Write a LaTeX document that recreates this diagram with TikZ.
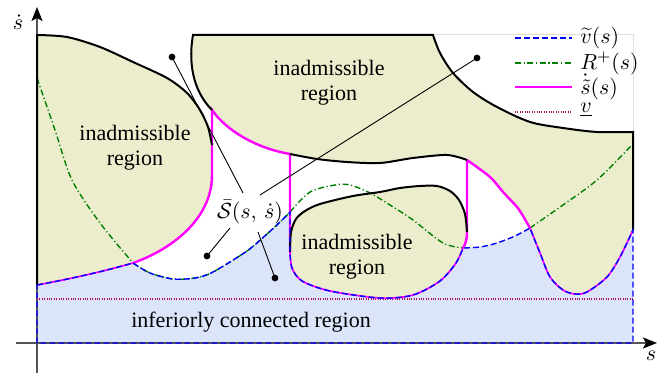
\documentclass[tikz,border=0pt]{standalone}
\usepackage{fontspec}
\setmainfont{Liberation Serif}
\usetikzlibrary{arrows.meta}
\definecolor{khaki}{RGB}{236,237,204}
\definecolor{lblue}{RGB}{220,228,250}
\definecolor{maroonv}{RGB}{170,20,80}
\definecolor{rgreen}{RGB}{0,128,0}
\definecolor{pmag}{RGB}{255,0,255}
\definecolor{axgray}{RGB}{85,85,85}
\definecolor{framegray}{RGB}{225,225,225}
\begin{document}
\begin{tikzpicture}[x=0.5pt,y=-0.5pt,
  bnd/.style={line width=1pt, black},
  mag/.style={line width=1.2pt, pmag},
  magthin/.style={line width=0.85pt, pmag},
  vtl/.style={line width=0.7pt, blue, dash pattern=on 3pt off 1.5pt},
  rpl/.style={line width=0.7pt, rgreen, dash pattern=on 3pt off 1.3pt on 0.6pt off 1.3pt},
  vll/.style={line width=0.6pt, maroonv, dash pattern=on 0.5pt off 0.7pt},
  ptr/.style={line width=0.45pt, black},
  dotn/.style={circle, fill=black, inner sep=0pt, minimum size=3.4pt},
  lab/.style={font=\fontsize{11}{12.5}\selectfont, align=center, inner sep=0pt},
  ax/.style={line width=0.9pt, axgray},
  tip/.style={-{Stealth[length=7pt,width=5.5pt,inset=1.5pt,color=black]}},
]
\useasboundingbox (0,0) rectangle (659,373);

% fills
\fill[khaki] (37,35) rectangle (633,343);
\fill[white] (37,35)
  -- plot[smooth] coordinates {(37,35) (67,37) (100,47) (133,62) (167,78) (187,93) (200,110) (208,127) (212,145)}
  -- (212,175) .. controls (212,220) and (170,250) .. (133,263)
  -- plot[smooth] coordinates {(133,263) (150,273) (173,279) (195,278) (213,272) (247,251) (267,234) (280,222) (290,212)}
  -- (290,252)
  -- plot[smooth] coordinates {(290,252) (291,232) (296,219) (305,211) (320,204) (353,196) (380,192) (400,188) (420,186) (437,186) (450,191) (459,200) (465,214) (467,232)}
  -- (467,233) .. controls (467,240) and (465,245) .. (463,248)
  -- plot[smooth] coordinates {(463,248) (480,247) (497,243) (515,236) (530,228)}
  -- plot[smooth] coordinates {(530,228) (523,216) (517,207) (503,192) (490,177) (467,160)}
  -- plot[smooth] coordinates {(467,160) (447,155) (413,158) (380,163) (347,162) (317,159) (290,154)}
  .. controls (255,148) and (226,130) .. (212,110)
  .. controls (197,95) and (187,70) .. (193,35) -- cycle;
\fill[white] (433,35)
  -- plot[smooth] coordinates {(433,35) (440,53) (453,73) (473,92) (497,107) (530,122) (563,128) (597,132) (633,132)}
  -- (633,35) -- cycle;
\fill[lblue] (37,343) -- (37,285) .. controls (70,279) and (105,271) .. (133,263)
  -- plot[smooth] coordinates {(133,263) (150,273) (173,279) (195,278) (213,272) (247,251) (267,234) (280,222) (290,212)}
  -- (290,252)
  -- plot[smooth] coordinates {(290,252) (292,268) (302,281) (330,291) (380,298) (413,295) (440,281) (456,263) (463,248)}
  -- plot[smooth] coordinates {(463,248) (480,247) (497,243) (515,236) (530,228)}
  -- plot[smooth] coordinates {(530,228) (540,253) (550,277) (563,290) (575,294) (587,292) (607,277) (620,257) (633,230)}
  -- (633,343) -- cycle;
\draw[framegray, line width=0.5pt] (433,35) -- (633,35) -- (633,132);

% axes
\coordinate (xs) at (16,343); \coordinate (xe) at (657,343);
\coordinate (ys) at (37,373); \coordinate (ye) at (37,7);
\draw[ax,tip] (xs) -- (xe);
\draw[ax,tip] (ys) -- (ye);
\node[lab] (ylab) at (18,22) {$\dot{s}$};
\node[lab] (xlab) at (651,356) {$s$};

% lower bound
\draw[vll] (37,299) -- (633,299);

% R+ curve
\draw[rpl] plot[smooth] coordinates {(37,78) (55,130) (72,180) (100,223) (133,263)};
\draw[rpl] plot[smooth] coordinates {(133,263) (150,273) (173,279) (195,278) (213,272) (247,251) (267,234) (280,222) (290,212)};
\draw[rpl] plot[smooth] coordinates {(290,212) (310,192) (335,185) (350,185) (370,193) (390,205) (413,220) (443,243) (463,248)};
\draw[rpl] plot[smooth] coordinates {(530,228) (563,205) (597,180) (632,145)};

% magenta s-dot curve
\draw[magthin] (37,285) .. controls (70,279) and (105,271) .. (133,263);
\draw[mag] (133,263) .. controls (170,250) and (212,220) .. (212,175) -- (212,110)
  .. controls (226,130) and (255,148) .. (290,154) -- (290,252);
\draw[magthin] plot[smooth] coordinates {(290,252) (292,268) (302,281) (330,291) (380,298) (413,295) (440,281) (456,263) (463,248)};
\draw[mag] (463,248) .. controls (465,245) and (467,240) .. (467,233) -- (467,160);
\draw[mag] plot[smooth] coordinates {(467,160) (490,177) (503,192) (517,207) (523,216) (530,228)};
\draw[magthin] plot[smooth] coordinates {(530,228) (540,253) (550,277) (563,290) (575,294) (587,292) (607,277) (620,257) (633,230)};

% black boundaries
\draw[bnd] (37,285) -- plot[smooth] coordinates {(37,35) (67,37) (100,47) (133,62) (167,78) (187,93) (200,110) (208,127) (212,145)};
\draw[bnd] (212,110) .. controls (197,95) and (187,70) .. (193,35) -- (433,35)
  -- plot[smooth] coordinates {(433,35) (440,53) (453,73) (473,92) (497,107) (530,122) (563,128) (597,132) (633,132)}
  -- (633,230);
\draw[bnd] plot[smooth] coordinates {(290,154) (317,159) (347,162) (380,163) (413,158) (447,155) (467,160)};
\draw[bnd] plot[smooth] coordinates {(290,252) (291,232) (296,219) (305,211) (320,204) (353,196) (380,192) (400,188) (420,186) (437,186) (450,191) (459,200) (465,214) (467,232)};

% v tilde
\draw[vtl] (37,285) .. controls (70,279) and (105,271) .. (133,263)
  -- plot[smooth] coordinates {(133,263) (150,273) (173,279) (195,278) (213,272) (247,251) (267,234) (280,222) (290,212)}
  -- (290,252)
  -- plot[smooth] coordinates {(290,252) (292,268) (302,281) (330,291) (380,298) (413,295) (440,281) (456,263) (463,248)}
  -- plot[smooth] coordinates {(463,248) (480,247) (497,243) (515,236) (530,228)}
  -- plot[smooth] coordinates {(530,228) (540,253) (550,277) (563,290) (575,294) (587,292) (607,277) (620,257) (633,230)}
  -- (633,343) -- (37,343) -- (37,285);

% labels
\node[lab] (lreg) at (135,148) {inadmissible\\region};
\node[lab] (treg) at (329,83) {inadmissible\\region};
\node[lab] (mreg) at (357,257) {inadmissible\\region};
\node[lab] (ireg) at (251,322) {inferiorly connected region};
\node[lab] (sbar) at (250,212) {$\bar{\mathcal{S}}(s,\,\dot{s})$};

% pointers
\node[dotn] (d1) at (172,57) {};
\node[dotn] (d2) at (477,58) {};
\node[dotn] (d3) at (207,256) {};
\node[dotn] (d4) at (275,278) {};
\coordinate (p1) at (243,193);
\coordinate (p2) at (260,195);
\coordinate (p3) at (230,228);
\coordinate (p4) at (258,232);
\draw[ptr] (p1) -- (d1.center);
\draw[ptr] (p2) -- (d2.center);
\draw[ptr] (p3) -- (d3.center);
\draw[ptr] (p4) -- (d4.center);

% legend
\coordinate (la1) at (515,38); \coordinate (lb1) at (572,38);
\coordinate (la2) at (515,63); \coordinate (lb2) at (572,63);
\coordinate (la3) at (515,87); \coordinate (lb3) at (572,87);
\coordinate (la4) at (515,112); \coordinate (lb4) at (572,112);
\draw[vtl] (la1) -- (lb1);
\draw[rpl] (la2) -- (lb2);
\draw[mag] (la3) -- (lb3);
\draw[vll] (la4) -- (lb4);
\node[lab, anchor=west] (lt1) at (580,38) {$\widetilde{v}(s)$};
\node[lab, anchor=west] (lt2) at (580,63) {$R^{+}(s)$};
\node[lab, anchor=west] (lt3) at (580,87) {$\dot{\tilde{s}}(s)$};
\node[lab, anchor=west] (lt4) at (580,110) {$\underline{v}$};
\end{tikzpicture}
\end{document}
